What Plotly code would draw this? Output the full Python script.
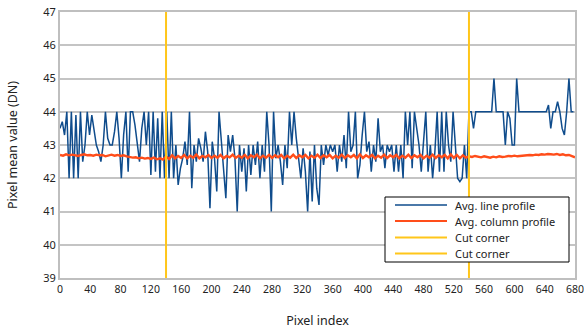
import plotly.graph_objects as go

# ---- data ----
line_step = 3
line_profile = [
    43.5, 43.7, 43.3, 44.0, 42.0, 44.0, 42.0, 43.9, 42.0, 44.0,
    42.5, 43.0, 44.0, 43.3, 43.9, 43.5, 43.0, 42.8, 42.5, 43.0,
    44.0, 43.2, 43.0, 43.0, 43.4, 44.0, 43.2, 42.0, 43.3, 44.0,
    42.2, 44.0, 44.0, 43.6, 43.0, 42.5, 43.5, 44.0, 43.0, 44.0,
    42.1, 44.0, 42.2, 43.8, 42.0, 44.0, 42.0, 44.0, 42.0, 44.0,
    42.0, 43.0, 41.8, 42.3, 42.6, 43.1, 42.4, 44.0, 41.7, 43.0,
    42.5, 43.2, 42.9, 42.5, 43.4, 42.8, 41.1, 43.1, 42.6, 41.6,
    44.0, 43.1, 42.3, 41.4, 43.3, 42.8, 43.3, 42.6, 41.0, 43.0,
    42.2, 42.9, 41.6, 43.0, 42.1, 43.0, 42.4, 43.1, 42.0, 43.0,
    42.2, 44.0, 43.0, 41.0, 44.0, 42.6, 43.0, 42.5, 41.8, 43.0,
    42.3, 44.0, 43.0, 44.0, 43.2, 42.5, 42.0, 42.9, 42.2, 41.0,
    42.8, 41.3, 43.0, 41.7, 41.2, 43.0, 42.4, 43.0, 42.7, 43.0,
    42.8, 43.0, 42.2, 43.0, 42.5, 43.3, 42.3, 44.0, 42.8, 43.0,
    44.0, 42.0, 42.4, 43.3, 44.0, 42.8, 43.1, 42.2, 43.0, 42.5,
    43.8, 42.8, 43.0, 42.3, 43.0, 42.8, 43.0, 42.2, 43.0, 42.2,
    43.0, 42.0, 44.0, 43.0, 44.0, 42.3, 44.0, 43.5, 43.0, 42.2,
    43.0, 44.0, 42.2, 43.0, 42.0, 42.8, 44.0, 42.2, 44.0, 42.2,
    44.0, 43.0, 42.5, 44.0, 43.0, 42.0, 41.9, 42.0, 43.0, 42.0,
    44.0, 44.0, 43.5, 44.0, 44.0, 44.0, 44.0, 44.0, 44.0, 44.0,
    44.0, 45.0, 44.0, 44.0, 44.0, 44.0, 43.0, 44.0, 43.8, 43.0,
    43.0, 45.0, 44.0, 44.0, 44.0, 44.0, 44.0, 44.0, 44.0, 44.0,
    44.0, 44.0, 44.0, 44.0, 44.0, 44.2, 43.5, 44.0, 44.0, 44.3,
    44.0, 43.5, 43.3, 44.0, 45.0, 44.0, 44.0,
]

column_step = 4
column_profile = [
    42.70, 42.68, 42.72, 42.69, 42.71, 42.70, 42.67, 42.70, 42.72, 42.69,
    42.70, 42.68, 42.71, 42.69, 42.70, 42.66, 42.69, 42.71, 42.68, 42.70,
    42.67, 42.69, 42.66, 42.64, 42.62, 42.63, 42.60, 42.62, 42.59, 42.61,
    42.58, 42.62, 42.57, 42.60, 42.56, 42.66, 42.58, 42.69, 42.60, 42.67,
    42.61, 42.70, 42.60, 42.68, 42.62, 42.71, 42.60, 42.67, 42.63, 42.70,
    42.61, 42.68, 42.62, 42.70, 42.60, 42.67, 42.63, 42.71, 42.61, 42.68,
    42.62, 42.70, 42.60, 42.69, 42.63, 42.71, 42.60, 42.68, 42.62, 42.70,
    42.61, 42.69, 42.63, 42.70, 42.60, 42.68, 42.62, 42.71, 42.61, 42.69,
    42.63, 42.70, 42.60, 42.68, 42.62, 42.71, 42.61, 42.69, 42.63, 42.70,
    42.60, 42.68, 42.62, 42.71, 42.61, 42.69, 42.63, 42.70, 42.60, 42.72,
    42.61, 42.69, 42.63, 42.70, 42.60, 42.68, 42.62, 42.71, 42.61, 42.69,
    42.63, 42.70, 42.60, 42.68, 42.62, 42.71, 42.61, 42.69, 42.63, 42.70,
    42.60, 42.68, 42.62, 42.71, 42.61, 42.69, 42.63, 42.70, 42.60, 42.72,
    42.61, 42.70, 42.60, 42.69, 42.62, 42.66, 42.64, 42.67, 42.65, 42.63,
    42.66, 42.64, 42.62, 42.65, 42.63, 42.66, 42.64, 42.65, 42.67, 42.66,
    42.68, 42.66, 42.67, 42.69, 42.68, 42.70, 42.69, 42.71, 42.70, 42.72,
    42.71, 42.73, 42.72, 42.71, 42.73, 42.70, 42.72, 42.69, 42.70, 42.67,
    42.63,
]

cut_corners = [140, 540]
series_names = ["Avg. line profile", "Avg. column profile", "Cut corner", "Cut corner"]
y_range = [39, 47]
x_range = [0, 680]
x_ticks = list(range(0, 681, 40))
y_ticks = list(range(39, 48))

line_x = [i * line_step for i in range(len(line_profile))]
col_x = [i * column_step for i in range(len(column_profile))]

FONT = "Noto Sans"
BLUE, ORANGE, GOLD = "#0F4C8C", "#FF4D1A", "#FFC61A"
colors = [BLUE, ORANGE, GOLD, GOLD]

W, H = 584, 330
ML, MR, MT, MB = 60, 9, 12, 52
PW, PH = W - ML - MR, H - MT - MB

def px(sx):  # page pixel -> paper x
    return (sx - ML) / PW

def py(sy):  # page pixel -> paper y
    return (H - MB - sy) / PH

fig = go.Figure()
fig.add_trace(go.Scatter(x=line_x, y=line_profile, mode="lines",
                         name=series_names[0], line=dict(color=BLUE, width=1.5)))
fig.add_trace(go.Scatter(x=col_x, y=column_profile, mode="lines",
                         name=series_names[1], line=dict(color=ORANGE, width=2.4)))
for cx, nm in zip(cut_corners, series_names[2:]):
    fig.add_trace(go.Scatter(x=[cx, cx], y=y_range, mode="lines",
                             name=nm, line=dict(color=GOLD, width=2)))

# custom legend (box covers data, like the original)
shapes = [dict(type="rect", xref="paper", yref="paper", layer="above",
               x0=px(385), x1=px(569), y0=py(262), y1=py(197),
               fillcolor="white", line=dict(color="black", width=1))]
annotations = []
entry_y = [205, 221, 237.5, 253.5]
for nm, col, ey in zip(series_names, colors, entry_y):
    shapes.append(dict(type="line", xref="paper", yref="paper", layer="above",
                       x0=px(395), x1=px(447), y0=py(ey), y1=py(ey),
                       line=dict(color=col, width=1.6 if col == BLUE else 2)))
    annotations.append(dict(xref="paper", yref="paper", x=px(453), y=py(ey),
                            xanchor="left", yanchor="middle", showarrow=False,
                            text=nm, font=dict(size=11, color="#222")))

fig.update_layout(
    width=W, height=H,
    margin=dict(l=ML, r=MR, t=MT, b=MB, autoexpand=False),
    paper_bgcolor="white", plot_bgcolor="white",
    font=dict(family=FONT, size=11, color="#222"),
    showlegend=False,
    shapes=shapes, annotations=annotations,
)
fig.update_xaxes(range=x_range, tickvals=x_ticks, showgrid=False,
                 showline=True, linecolor="#BFBFBF", linewidth=2, mirror=True,
                 ticks="", zeroline=False, automargin=False,
                 ticklabeloverflow="allow",
                 tickfont=dict(size=10.5),
                 title=dict(text="Pixel index", font=dict(size=12.5), standoff=22))
fig.update_yaxes(range=y_range, tickvals=y_ticks, showgrid=True,
                 gridcolor="#C4C4C4", gridwidth=1.5,
                 showline=True, linecolor="#BFBFBF", linewidth=2, mirror=True,
                 ticks="", zeroline=False, automargin=False,
                 title=dict(text="Pixel mean value (DN)", font=dict(size=12.5), standoff=23))

fig.write_html("out.html", config={"displayModeBar": False},
               post_script="document.body.style.margin='0';document.body.style.overflow='hidden';")
